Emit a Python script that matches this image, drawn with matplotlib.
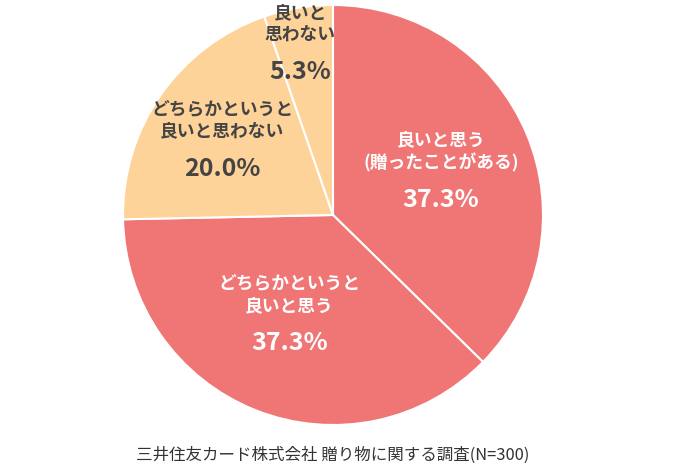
import numpy as np
import matplotlib
matplotlib.use("Agg")
import matplotlib.pyplot as plt

plt.rcParams['font.family'] = ['Noto Sans CJK JP', 'DejaVu Sans']

labels = ["良いと思う\n(贈ったことがある)", "どちらかというと\n良いと思う",
          "どちらかというと\n良いと思わない", "良いと\n思わない"]
values = [37.3, 37.3, 20.0, 5.3]
pct_labels = ["37.3%", "37.3%", "20.0%", "5.3%"]

colors = ["#f07575", "#f07575", "#fed39a", "#fed39a"]
text_colors = ["white", "white", "#444444", "#444444"]
label_r = [0.546, 0.536, 0.625, 0.81]
angle_adj = [-2.9, -1.1, 2.4, 1.5]

fig = plt.figure(figsize=(6.81, 4.69), dpi=100)
ax = fig.add_axes([123/681, 44/469, 420/681, 420/469])
wedges, _ = ax.pie(values, colors=colors, startangle=90, counterclock=False,
                   wedgeprops=dict(edgecolor="white", linewidth=1.5))
ax.set_xlim(-1, 1)
ax.set_ylim(-1, 1)
ax.set_aspect('equal')

for w, lab, pct, tc, r, adj in zip(wedges, labels, pct_labels, text_colors, label_r, angle_adj):
    mid = np.deg2rad((w.theta1 + w.theta2) / 2 + adj)
    x, y = r * np.cos(mid), r * np.sin(mid)
    ax.text(x, y + 0.115, lab, ha='center', va='center', fontsize=12.8,
            fontweight='bold', color=tc, linespacing=1.29)
    ax.text(x, y - 0.115, pct, ha='center', va='center', fontsize=18,
            fontweight='bold', color=tc)

fig.text(333/681, 1 - 455/469, "三井住友カード株式会社 贈り物に関する調査(N=300)",
         ha='center', va='center', fontsize=11.9, color='#333333')

fig.savefig("out.png", dpi=100)
